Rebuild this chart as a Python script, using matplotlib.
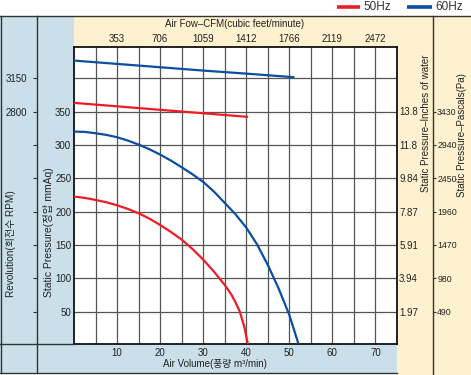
import matplotlib
matplotlib.use("Agg")
import matplotlib.pyplot as plt
from matplotlib.lines import Line2D
from matplotlib.patches import Rectangle

plt.rcParams['font.family'] = ['Liberation Sans', 'Noto Sans CJK KR', 'DejaVu Sans']

# ---------------- data ----------------
flow_60 = [0, 2.5, 5, 7.5, 10, 12.5, 15, 17.5, 20, 22.5, 25, 27.5, 30, 32.5, 35, 37.5,
           40, 42.5, 45, 47.5, 50, 52.2]
pres_60 = [320, 319.5, 317.5, 315, 311.5, 306.5, 300.5, 293.5, 285.5, 276.5, 266.5, 256,
           244.5, 230, 213, 196, 176, 151, 120, 85, 45, 0]
flow_50 = [0, 2.5, 5, 7.5, 10, 12.5, 15, 17.5, 20, 22.5, 25, 27.5, 30, 32.5, 35, 36.5,
           37.5, 38.5, 39.6, 40.4]
pres_50 = [222.5, 220.5, 217.5, 214, 209.5, 204, 197.5, 189.5, 180, 169.5, 158, 144,
           128, 110, 90, 76, 64, 50, 26, 0]
rpm_flow_60 = [0, 10, 20, 30, 40, 51.2]
rpm_60 = [3335, 3300, 3265, 3230, 3198, 3160]
rpm_flow_50 = [0, 10, 20, 30, 40.4]
rpm_50 = [2891, 2855, 2818, 2782, 2744]

x_major = [10, 20, 30, 40, 50, 60, 70]
x_minor = [5, 15, 25, 35, 45, 55, 65]
p_ticks = [50, 100, 150, 200, 250, 300, 350]
p_grid = [50, 100, 150, 200, 250, 300, 350, 400]
cfm_ticks = [353, 706, 1059, 1412, 1766, 2119, 2472]
inch_ticks = [1.97, 3.94, 5.91, 7.87, 9.84, 11.8, 13.8]
inch_labels = ['1.97', '3.94', '5.91', '7.87', '9.84', '11.8', '13.8']
pa_ticks = [490, 980, 1470, 1960, 2450, 2940, 3430]
rpm_labels = [2800, 3150]
legend_labels = ['50Hz', '60Hz']

RED = '#ee1c25'
BLUE = '#0b4ea2'
LBLUE = '#cadfe9'
BEIGE = '#fef1d0'
TXT = '#222222'
GRID = '#555555'

W, H = 471, 375
def fx(px):
    return px / W
def fy(py):
    return 1 - py / H

fig = plt.figure(figsize=(W / 100, H / 100), dpi=100)

# background panels
def rect(x0, y0, x1, y1, color):
    fig.patches.append(Rectangle((fx(x0), fy(y1)), fx(x1) - fx(x0), fy(y0) - fy(y1),
                                 transform=fig.transFigure, facecolor=color,
                                 edgecolor='none', zorder=-10))
rect(0, 16, 74, 373, LBLUE)
rect(74, 343, 397, 373, LBLUE)
rect(74, 16, 397, 47, BEIGE)
rect(397, 16, 471, 375, BEIGE)

def fline(x0, y0, x1, y1, color='#333333', lw=1.0):
    fig.lines.append(Line2D([fx(x0), fx(x1)], [fy(y0), fy(y1)], transform=fig.transFigure,
                            color=color, lw=lw, zorder=5))
fline(0, 16, 471, 16)
fline(0.5, 16, 0.5, 373)
fline(37, 16, 37, 373)
fline(0, 343.5, 74, 343.5)
fline(0, 372.5, 397, 372.5)
fline(433, 16, 433, 375)

# main axes
top_px, bot_px = 47, 343.5
ax = fig.add_axes([fx(74), fy(bot_px), fx(397) - fx(74), fy(top_px) - fy(bot_px)])
px_per_unit = (345 - 278.3) / 100.0
ylo = (345 - bot_px) / px_per_unit
yhi = (345 - top_px) / px_per_unit
ax.set_xlim(0, 75)
ax.set_ylim(ylo, yhi)
ax.set_facecolor('white')
ax.set_xticks(x_major)
ax.set_xticks(x_minor, minor=True)
ax.set_yticks(p_grid)
ax.set_yticklabels([str(v) if v in p_ticks else '' for v in p_grid])
ax.tick_params(axis='both', which='both', length=0, labelsize=7, colors=TXT)
ax.tick_params(axis='x', pad=3)
ax.tick_params(axis='y', pad=2)
ax.grid(True, which='both', color=GRID, lw=0.9)
ax.set_axisbelow(True)
for s in ax.spines.values():
    s.set_color('#111111')
    s.set_linewidth(1.3)

ax.plot(flow_50, pres_50, color=RED, lw=1.6, solid_capstyle='butt', zorder=3)
ax.plot(flow_60, pres_60, color=BLUE, lw=1.6, solid_capstyle='butt', zorder=3)

# RPM axis (twin), 2800 rpm <-> 350 mmAq, 3150 rpm <-> 400 mmAq
def p2r(p):
    return 2800 + (p - 350) * 7.0
axr = ax.twinx()
axr.set_ylim(p2r(ylo), p2r(yhi))
axr.plot(rpm_flow_50, rpm_50, color=RED, lw=1.6, solid_capstyle='butt', zorder=3)
axr.plot(rpm_flow_60, rpm_60, color=BLUE, lw=1.6, solid_capstyle='butt', zorder=3)
axr.yaxis.set_ticks_position('left')
axr.yaxis.set_label_position('left')
axr.spines['left'].set_position(('outward', (74 - 37) * 0.72))
for s in axr.spines.values():
    s.set_visible(False)
axr.set_yticks(rpm_labels)
axr.set_yticklabels([str(v) for v in rpm_labels])
axr.set_yticks([p2r(v) for v in p_grid if p2r(v) not in rpm_labels], minor=True)
axr.tick_params(axis='y', which='both', direction='out', length=3, width=0.8,
                color='#333333', labelsize=7, labelcolor=TXT, pad=4)

# top CFM axis
secx = ax.secondary_xaxis('top', functions=(lambda x: x * 35.31, lambda c: c / 35.31))
secx.set_xticks(cfm_ticks)
secx.set_xticklabels([str(v) for v in cfm_ticks])
secx.tick_params(length=0, labelsize=7, colors=TXT, pad=2)
secx.spines['top'].set_visible(False)

# inches of water axis
seci = ax.secondary_yaxis('right', functions=(lambda p: p * 0.03937, lambda i: i / 0.03937))
seci.set_yticks(inch_ticks)
seci.set_yticklabels(inch_labels)
seci.tick_params(length=0, labelsize=7, colors=TXT, pad=1.5)
seci.spines['right'].set_visible(False)

# pascals axis
secp = ax.secondary_yaxis((433 - 74) / (397 - 74), functions=(lambda p: p * 9.8, lambda a: a / 9.8))
secp.set_yticks(pa_ticks)
secp.set_yticklabels([str(v) for v in pa_ticks])
secp.tick_params(direction='out', length=2.5, width=0.8, color='#333333',
                 labelsize=6.3, labelcolor=TXT, pad=0.5)
secp.spines['right'].set_visible(False)

# titles
fig.text(fx(235), fy(24), 'Air Fow\u2013CFM(cubic feet/minute)', ha='center', va='center',
         fontsize=7, color=TXT)
fig.text(fx(215), fy(364), 'Air Volume(풍량 m³/min)', ha='center', va='center',
         fontsize=7, color=TXT)
fig.text(fx(11), fy(297), 'Revolution(회전수 RPM)', rotation=90, ha='center', va='bottom',
         fontsize=7.2, color=TXT)
fig.text(fx(48.5), fy(297), 'Static Pressure(정압 mmAq)', rotation=90, ha='center', va='bottom',
         fontsize=7.5, color=TXT)
fig.text(fx(426), fy(192), 'Static Pressure\u2013Inches of water', rotation=90, ha='center',
         va='bottom', fontsize=7, color=TXT)
fig.text(fx(462), fy(197), 'Static Pressure\u2013Pascals(Pa)', rotation=90, ha='center',
         va='bottom', fontsize=7, color=TXT)

# legend
for (x0, x1, tx), col, lab in zip([(337, 360, 363), (407, 432, 435)], [RED, BLUE], legend_labels):
    fig.lines.append(Line2D([fx(x0), fx(x1)], [fy(7), fy(7)], transform=fig.transFigure,
                            color=col, lw=2.6, solid_capstyle='butt'))
    fig.text(fx(tx), fy(7), lab, ha='left', va='center', fontsize=8.5, color='#333333')

fig.savefig('out.png', dpi=100)
